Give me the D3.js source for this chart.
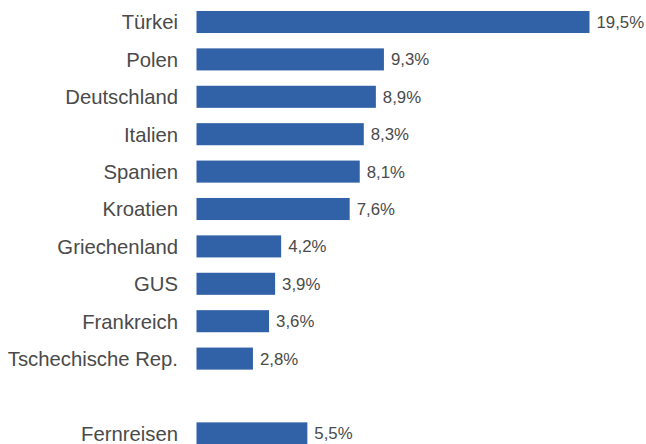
<!DOCTYPE html>
<html><head><meta charset="utf-8">
<script src="https://cdn.jsdelivr.net/npm/d3@7"></script>
<style>body{margin:0;background:#fff;}svg{display:block;}</style>
</head><body>
<svg id="chart" width="646" height="444"></svg>
<script>
const categories = ["Türkei","Polen","Deutschland","Italien","Spanien","Kroatien","Griechenland","GUS","Frankreich","Tschechische Rep.","","Fernreisen"];
const values = [19.5, 9.3, 8.9, 8.3, 8.1, 7.6, 4.2, 3.9, 3.6, 2.8, null, 5.5];
const valueLabels = ["19,5%","9,3%","8,9%","8,3%","8,1%","7,6%","4,2%","3,9%","3,6%","2,8%","","5,5%"];

const svg = d3.select("#chart");
const slots = categories.map((c,i)=>"s"+i);
const y = d3.scaleBand().domain(slots).range([3.3, 452.1]).paddingInner(0.41).paddingOuter(0.205);
const x = d3.scaleLinear().domain([0, 19.5]).range([196.5, 589.5]);

const rows = categories.map((c,i)=>({c, v: values[i], lab: valueLabels[i], k: slots[i]}));

svg.selectAll("rect.bar").data(rows.filter(d=>d.v!=null)).join("rect")
  .attr("class","bar")
  .attr("x", x(0))
  .attr("y", d=>y(d.k))
  .attr("width", d=>x(d.v)-x(0))
  .attr("height", y.bandwidth())
  .attr("fill","#3162a8");

svg.selectAll("text.cat").data(rows.filter(d=>d.c)).join("text")
  .attr("class","cat")
  .attr("x", 178)
  .attr("y", d=>y(d.k)+y.bandwidth()/2)
  .attr("dy","0.36em")
  .attr("text-anchor","end")
  .attr("font-family","'Liberation Sans', Arial, sans-serif")
  .attr("font-size","20.3px")
  .attr("fill","#4a4a4a")
  .text(d=>d.c);

svg.selectAll("text.val").data(rows.filter(d=>d.v!=null)).join("text")
  .attr("class","val")
  .attr("x", d=>x(d.v)+7)
  .attr("y", d=>y(d.k)+y.bandwidth()/2)
  .attr("dy","0.36em")
  .attr("font-family","'Liberation Sans', Arial, sans-serif")
  .attr("font-size","16.8px")
  .attr("fill","#4a4a4a")
  .text(d=>d.lab);
</script>
</body></html>
